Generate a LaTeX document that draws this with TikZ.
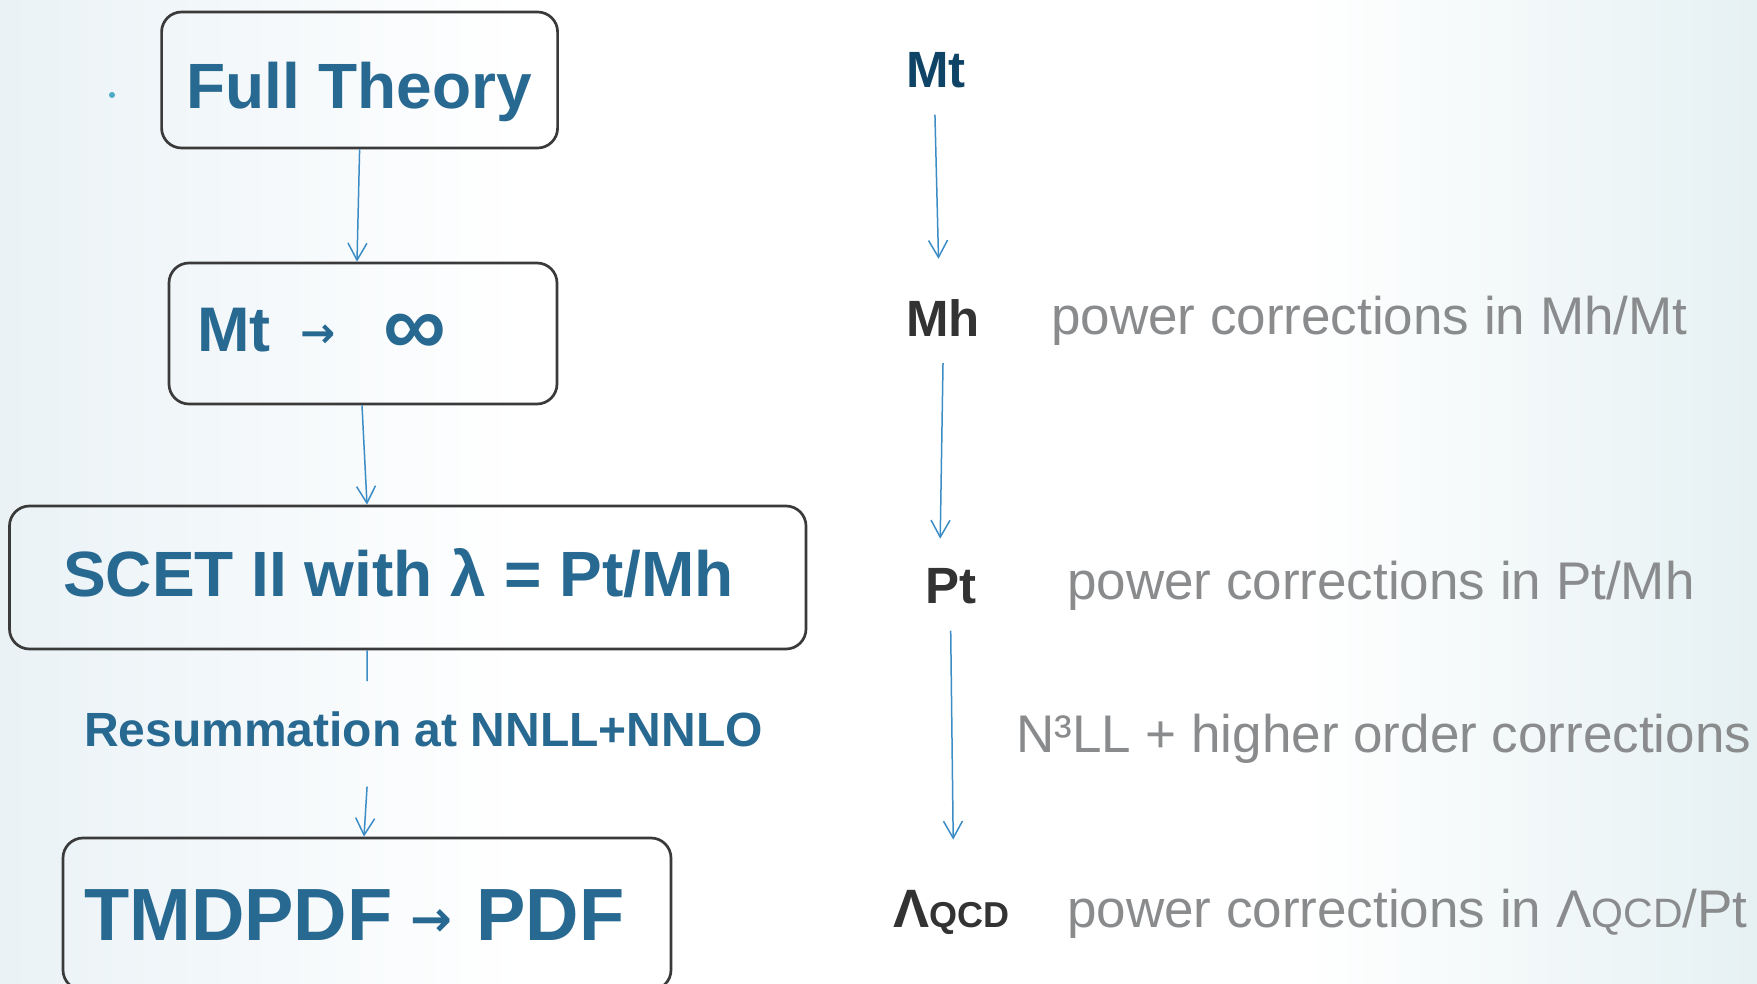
\documentclass[tikz,border=0pt]{standalone}
\usepackage{fontspec}
\setmainfont{Liberation Sans}
\newfontfamily\arrowfont{DejaVu Sans}
\usetikzlibrary{arrows.meta}
\definecolor{boxblue}{HTML}{286991}
\definecolor{navy}{HTML}{0F4466}
\definecolor{darktext}{HTML}{333333}
\definecolor{graytext}{HTML}{898B8D}
\definecolor{arrowblue}{HTML}{3C8DC6}
\definecolor{boxline}{HTML}{3A3A3A}
\definecolor{bgleft}{HTML}{EAF2F6}
\definecolor{bgright}{HTML}{E6F1F3}
\definecolor{dotcol}{HTML}{4AAAC8}
\newcommand\setfs[1]{\fontsize{#1}{#1}\selectfont}

\begin{document}
\begin{tikzpicture}[x=1pt,y=-1pt,
  box/.style={draw=boxline, line width=2.7pt, rounded corners=20pt, inner sep=0pt},
  txt/.style={inner sep=0pt, anchor=base west},
  boxtxt/.style={txt, text=boxblue, font=\bfseries},
  scaletxt/.style={txt, font=\bfseries},
  note/.style={txt, text=graytext},
  arr/.style={draw=arrowblue, line width=1.5pt, -{Straight Barb[length=17pt,width=19pt]}},
  link/.style={draw=arrowblue, line width=1.5pt}]

% page and soft background tint
\useasboundingbox (0,0) rectangle (1757,984);
\clip (0,0) rectangle (1757,984);
\fill[white] (0,0) rectangle (1757,984);
\shade[left color=bgleft, right color=white] (0,0) rectangle (520,984);
\shade[left color=white, right color=bgright] (1300,0) rectangle (1757,984);
\fill[dotcol] (112,95) circle (3);

% left column: chain of boxes
\node[box, minimum width=396, minimum height=136] (full) at (359.6,80) {};
\node[box, minimum width=388, minimum height=141] (heavy) at (363,333.5) {};
\node[box, minimum width=796.5, minimum height=143] (scet) at (407.75,577.5) {};
\node[box, minimum width=608, minimum height=152] (tmd) at (367,914) {};

\node[boxtxt] (fullT) at (186.5,109) {\setfs{64}Full Theory};
\node[boxtxt] (heavyT) at (197,352) {\setfs{63}Mt\hspace{30pt}{\arrowfont\setfs{42}\raisebox{4pt}{→}}\hspace{48pt}{\setfs{88}\raisebox{-4pt}{∞}}};
\node[boxtxt] (scetT) at (63,596) {\setfs{64}SCET II with λ = Pt/Mh};
\node[boxtxt] (res) at (84,746) {\setfs{48}Resummation at NNLL+NNLO};
\node[boxtxt] (tmdT) at (84,940) {\setfs{74}TMDPDF\hspace{18pt}{\arrowfont\setfs{50}\raisebox{4pt}{→}}\hspace{24pt}PDF};

\draw[arr] (full.south) -- ([xshift=-6pt]heavy.north);
\draw[arr] ([xshift=-1pt]heavy.south) -- ([xshift=-40.75pt]scet.north);
\draw[link] ([xshift=-40.75pt]scet.south) -- ([xshift=-56.5pt,yshift=30pt]res.north);
\draw[arr] ([xshift=-56.5pt,yshift=-40pt]res.south) -- ([xshift=-3pt]tmd.north);

% right column: scales and corrections
\node[scaletxt, text=navy] (sMt) at (906,88) {\setfs{51}Mt};
\node[scaletxt, text=darktext] (sMh) at (906,337) {\setfs{51}Mh};
\node[scaletxt, text=darktext] (sPt) at (925,603) {\setfs{51}Pt};
\node[scaletxt, text=darktext] (sLam) at (893,927) {\setfs{54}Λ{\setfs{36}QCD}};

\node[note] (cMh) at (1051,335) {\setfs{53}power corrections in Mh/Mt};
\node[note] (cPt) at (1067,599) {\setfs{53}power corrections in Pt/Mh};
\node[note] (cN3) at (1016,752) {\setfs{53}N³LL + higher order corrections};
\node[note] (cLam) at (1067,927) {\setfs{53}power corrections in Λ{\setfs{41}QCD}/Pt};

\draw[arr] ([xshift=-1pt,yshift=-26pt]sMt.south) -- ([xshift=-4.5pt,yshift=41pt]sMh.north);
\draw[arr] ([yshift=-26pt]sMh.south) -- ([xshift=-10.5pt,yshift=29pt]sPt.north);
\draw[arr] ([yshift=-27pt]sPt.south) -- ([xshift=2pt,yshift=50pt]sLam.north);
\end{tikzpicture}
\end{document}
